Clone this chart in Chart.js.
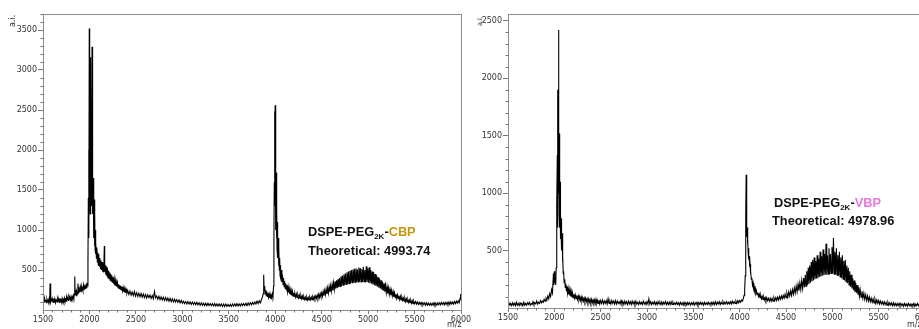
<!DOCTYPE html>
<html><head><meta charset="utf-8">
<script src="https://cdn.jsdelivr.net/npm/chart.js@4.4.0/dist/chart.umd.min.js"></script>
<style>
html,body{margin:0;padding:0;background:#fff;width:919px;height:329px;overflow:hidden;position:relative;}
canvas{position:absolute;top:0;}
#c1{left:0}
#c2{left:464px}
.ann{position:absolute;font-family:'Liberation Sans',Arial,sans-serif;font-weight:bold;font-size:12.8px;line-height:13px;color:#111;white-space:nowrap}
.ann sub{font-size:8px;vertical-align:baseline;position:relative;top:3px}
.ai{position:absolute;font-family:'DejaVu Sans',sans-serif;font-size:8px;line-height:8px;color:#333;transform:rotate(-90deg);transform-origin:left top;white-space:nowrap}
.mz{position:absolute;font-family:'DejaVu Sans',sans-serif;font-size:8px;line-height:8px;color:#333;white-space:nowrap}
</style></head>
<body>
<canvas id="c1" width="473" height="329"></canvas>
<canvas id="c2" width="475" height="329"></canvas>
<div class="ai" style="left:9px;top:27px">a.i.</div>
<div class="ai" style="left:476px;top:26px;font-size:6.5px">a.i.</div>
<div class="mz" style="left:447px;top:321px">m/z</div>
<div class="mz" style="left:907px;top:321px">m/z</div>
<div class="ann" style="left:308px;top:225px">DSPE-PEG<sub>2K</sub>-<span id="n1"></span></div>
<div class="ann" style="left:308px;top:243.5px" id="t1"></div>
<div class="ann" style="left:774px;top:196px">DSPE-PEG<sub>2K</sub>-<span id="n2"></span></div>
<div class="ann" style="left:772px;top:214px" id="t2"></div>
<script>
// ---- data (m/z, intensity a.i.) ----
const xTicks = [1500,2000,2500,3000,3500,4000,4500,5000,5500,6000];
const yTicksCBP = [500,1000,1500,2000,2500,3000,3500];
const yTicksVBP = [500,1000,1500,2000,2500];
const labelsCBP = { name:'CBP', color:'#c9950c', theo:'Theoretical: 4993.74' };
const labelsVBP = { name:'VBP', color:'#e67ad9', theo:'Theoretical: 4978.96' };

const cbpSpectrum = [
[1500,95],[1506,130],[1512,100],[1518,140],[1524,110],[1530,125],[1536,90],[1542,135],[1548,105],[1554,120],[1560,95],[1566,140],[1572,110],[1576,330],[1580,120],[1586,100],[1592,135],[1598,110],[1604,125],[1610,95],[1616,145],[1622,105],[1628,120],[1634,90],[1640,130],[1646,115],[1652,100],[1658,140],[1664,110],[1670,125],[1676,95],[1682,150],[1688,110],[1694,125],[1700,100],[1706,145],[1712,115],[1718,130],[1724,100],[1730,150],[1736,120],[1742,135],[1748,110],[1754,160],[1760,130],[1766,145],[1772,120],[1778,165],[1784,135],[1790,150],[1796,125],[1802,170],[1808,140],[1814,160],[1820,135],[1826,180],[1832,150],[1838,200],[1842,420],[1846,190],[1852,250],[1858,180],[1864,230],[1870,200],[1876,330],[1882,210],[1888,260],[1894,220],[1900,280],[1906,230],[1912,300],[1918,250],[1924,270],[1930,240],[1936,310],[1942,260],[1948,290],[1954,270],[1960,320],[1966,280],[1972,340],[1978,300],[1984,600],[1988,1400],[1992,2000],[1995,900],[1998,3520],[2001,1500],[2004,2500],[2007,1200],[2010,3160],[2013,1600],[2016,2900],[2019,1400],[2022,2600],[2025,1300],[2028,3290],[2031,1500],[2034,2500],[2037,1200],[2040,1650],[2043,1000],[2046,1500],[2049,900],[2052,1380],[2055,800],[2058,1200],[2061,750],[2064,1000],[2067,700],[2070,850],[2075,650],[2080,780],[2085,600],[2090,720],[2095,560],[2100,700],[2106,550],[2112,650],[2118,520],[2124,620],[2130,500],[2136,600],[2142,480],[2148,580],[2154,470],[2160,800],[2164,480],[2170,560],[2176,440],[2182,540],[2188,420],[2194,520],[2200,400],[2206,490],[2212,390],[2218,470],[2224,370],[2230,450],[2236,360],[2242,430],[2248,340],[2254,410],[2260,330],[2266,390],[2272,310],[2278,370],[2284,300],[2290,350],[2296,290],[2302,340],[2308,280],[2314,320],[2320,270],[2326,310],[2332,260],[2338,300],[2344,250],[2350,290],[2356,240],[2362,280],[2368,230],[2374,270],[2380,220],[2386,260],[2392,215],[2398,250],[2404,210],
[2412,245],[2424,195],[2436,235],[2448,185],[2460,225],[2472,180],[2484,230],[2496,175],[2508,215],[2520,170],[2532,210],[2544,165],[2556,205],[2568,160],[2580,200],[2592,155],[2604,195],[2616,150],[2628,190],[2640,155],[2652,185],[2664,145],[2676,180],[2688,140],[2700,230],[2712,150],[2724,175],[2736,135],[2748,170],[2760,130],[2772,165],[2784,125],[2796,160],[2808,120],[2820,155],[2832,115],[2844,150],[2856,110],[2868,145],[2880,105],[2892,140],[2904,100],[2916,135],[2928,100],[2940,130],[2952,95],[2964,125],[2976,90],[2988,120],[3000,85],[3012,110],[3024,80],[3036,105],[3048,75],[3060,105],[3072,75],[3084,100],[3096,70],[3108,100],[3120,70],[3132,95],[3144,65],[3156,95],[3168,65],[3180,90],[3192,60],[3204,90],[3216,60],[3228,85],[3240,55],[3252,85],[3264,55],[3276,85],[3288,55],[3300,80],[3312,55],[3324,80],[3336,50],[3348,80],[3360,50],[3372,75],[3384,50],[3396,75],[3408,50],[3420,75],[3432,45],[3444,75],[3456,45],[3468,75],[3480,45],[3492,70],[3504,45],[3516,70],[3528,45],[3540,75],[3552,50],[3564,75],[3576,50],[3588,80],[3600,50],[3612,75],[3624,50],[3636,80],[3648,55],[3660,80],[3672,55],[3684,85],[3696,55],[3708,90],[3720,60],[3732,90],[3744,65],[3756,95],[3768,70],[3780,100],[3792,75],[3804,110],[3816,80],[3828,115],[3840,90],[3850,125],[3862,160],[3870,200],[3876,440],[3880,250],[3886,300],[3892,200],[3898,250],[3904,180],[3910,230],[3916,170],[3922,210],[3928,160],[3934,200],[3940,150],[3946,190],[3952,140],[3958,180],[3964,150],[3970,200],[3976,170],[3982,300],[3986,900],[3990,1600],[3993,2480],[3996,1300],[3999,2560],[4002,1200],[4005,1800],[4008,1000],[4011,1720],[4014,900],[4017,1300],[4020,750],[4024,1100],[4028,650],[4032,900],[4036,550],[4040,800],[4044,500],[4048,650],[4052,430],[4056,560],[4060,400],[4066,500],[4072,350],[4078,440],[4084,320],[4090,400],[4096,290],[4102,360],[4108,270],[4114,330],[4120,250],[4126,310],[4132,230],[4138,290],[4144,220],[4150,270],[4156,200],[4162,250],[4168,190],[4174,240],[4180,180],[4186,230],[4192,175],[4198,215],[4204,170],[4212,205],[4220,160],[4228,200],[4236,155],[4244,190],[4252,150],[4260,185],[4268,145],[4276,180],[4284,140],[4292,175],[4300,135],[4308,165],[4316,130],[4324,160],[4332,125],[4340,160],[4348,125],[4356,155],[4364,125],[4372,160],[4380,130],[4388,160],[4396,130],[4404,165],[4412,135],[4420,170],[4428,140],[4436,175],[4444,145],[4452,185],[4460,150],[4468,195],[4476,155],[4484,205],[4492,165],[4500,215],[4508,170],[4516,230],[4524,180],[4532,245],[4540,190],[4548,260],[4556,200],[4564,275],[4572,210],[4580,290],[4588,225],[4596,305],[4604,235],[4612,320],[4620,245],[4628,340],[4636,255],[4644,355],[4652,265],[4660,370],[4668,275],[4676,385],[4684,285],[4692,400],[4700,295],[4708,420],[4716,305],[4724,430],[4732,310],[4740,445],[4748,315],[4756,455],[4764,320],[4772,470],[4780,325],[4788,480],[4796,330],[4804,490],[4812,335],[4820,500],[4828,340],[4836,505],[4844,345],[4852,515],[4860,345],[4868,520],[4876,350],[4884,510],[4892,350],[4900,530],[4908,355],[4916,525],[4924,350],[4932,510],[4940,350],[4948,540],[4956,355],[4964,500],[4972,345],[4980,545],[4988,350],[4996,520],[5004,340],[5012,535],[5020,335],[5028,500],[5036,330],[5044,480],[5052,320],[5060,470],[5068,310],[5076,450],[5084,300],[5092,430],[5100,290],[5108,410],[5116,280],[5124,390],[5132,270],[5140,370],[5148,255],[5156,350],[5164,240],[5172,330],[5180,230],[5188,310],[5196,215],[5204,290],[5212,205],[5220,275],[5228,195],[5236,260],[5244,185],[5252,245],[5260,175],[5268,230],[5276,165],[5284,215],[5292,155],[5300,200],[5308,145],[5316,190],[5324,140],[5332,180],[5340,130],[5348,170],[5356,125],[5364,160],[5372,120],[5380,150],[5388,110],[5396,145],[5404,105],[5412,140],[5420,100],[5428,130],[5436,95],[5444,125],[5452,90],[5460,120],[5468,85],[5476,115],[5484,80],[5492,110],[5500,80],[5510,105],[5520,75],[5530,100],[5540,70],[5550,95],[5560,70],[5570,95],[5580,65],[5590,90],[5600,65],[5610,90],[5620,60],[5630,90],[5640,60],[5650,85],[5660,60],[5670,85],[5680,60],[5690,85],[5700,60],[5710,90],[5720,60],[5730,85],[5740,60],[5750,90],[5760,65],[5770,90],[5780,65],[5790,95],[5800,70],[5810,90],[5820,65],[5830,95],[5840,70],[5850,95],[5860,70],[5870,100],[5880,70],[5890,100],[5900,75],[5910,100],[5920,75],[5930,105],[5940,80],[5950,110],[5960,85],[5970,115],[5980,90],[5990,150],[5996,200],[6000,120]
];

const vbpSpectrum = [
[1500,30],[1510,45],[1520,25],[1530,40],[1540,20],[1550,45],[1560,25],[1570,40],[1580,20],[1590,50],[1600,25],[1610,40],[1620,20],[1630,45],[1640,30],[1650,40],[1660,20],[1670,50],[1680,25],[1690,40],[1700,25],[1710,45],[1720,30],[1730,50],[1740,25],[1750,40],[1760,30],[1770,55],[1780,30],[1790,45],[1800,35],[1810,60],[1820,35],[1830,50],[1840,40],[1850,65],[1860,45],[1870,60],[1880,50],[1890,75],[1900,60],[1910,85],[1920,70],[1930,105],[1940,80],[1950,125],[1960,100],[1970,160],[1980,130],[1990,300],[1995,200],[2000,320],[2005,220],[2010,260],[2015,200],[2020,350],[2024,500],[2028,900],[2032,1330],[2035,700],[2038,1900],[2041,1000],[2044,2420],[2047,1200],[2050,1500],[2053,800],[2056,1520],[2059,700],[2062,1100],[2065,600],[2068,820],[2072,700],[2076,780],[2080,500],[2084,650],[2088,400],[2092,450],[2096,300],[2100,320],[2106,220],[2112,250],[2118,180],[2124,210],[2130,150],[2136,190],[2142,130],[2148,170],[2154,120],[2160,160],[2166,110],[2172,150],[2178,100],[2184,140],[2190,95],[2196,130],[2202,90],[2210,120],[2218,85],[2226,115],[2234,80],[2242,110],[2250,75],[2258,105],[2266,70],[2274,100],[2282,65],[2290,95],[2298,60],[2306,90],[2314,60],[2322,85],[2330,55],[2338,85],[2346,55],[2354,80],[2362,50],[2370,80],[2378,50],[2386,75],[2394,45],[2402,75],[2410,45],[2418,70],[2426,45],[2434,70],[2442,40],[2450,75],[2458,40],[2466,65],[2474,40],[2482,70],[2490,35],[2500,65],[2510,40],[2520,70],[2530,35],[2540,60],[2550,40],[2560,65],[2570,35],[2580,80],[2590,40],[2600,60],[2610,35],[2620,65],[2630,40],[2640,60],[2650,35],[2660,65],[2670,35],[2680,60],[2690,40],[2700,55],[2710,35],[2720,65],[2730,35],[2740,55],[2750,30],[2760,60],[2770,35],[2780,55],[2790,30],[2800,60],[2810,35],[2820,55],[2830,30],[2840,60],[2850,35],[2860,55],[2870,30],[2880,60],[2890,35],[2900,50],[2910,30],[2920,55],[2930,35],[2940,50],[2950,30],[2960,60],[2970,35],[2980,50],[2990,30],[3000,55],[3010,35],[3020,80],[3030,35],[3040,55],[3050,30],[3060,50],[3070,35],[3080,55],[3090,30],[3100,50],[3110,30],[3120,55],[3130,35],[3140,50],[3150,30],[3160,55],[3170,30],[3180,50],[3190,35],[3200,55],[3210,30],[3220,50],[3230,30],[3240,50],[3250,30],[3260,55],[3270,30],[3280,50],[3290,30],[3300,45],[3310,30],[3320,50],[3330,30],[3340,45],[3350,25],[3360,50],[3370,30],[3380,45],[3390,25],[3400,50],[3410,30],[3420,45],[3430,25],[3440,50],[3450,30],[3460,45],[3470,25],[3480,45],[3490,30],[3500,50],[3510,25],[3520,45],[3530,30],[3540,50],[3550,25],[3560,45],[3570,30],[3580,50],[3590,30],[3600,45],[3610,25],[3620,50],[3630,30],[3640,45],[3650,30],[3660,50],[3670,30],[3680,45],[3690,30],[3700,50],[3710,30],[3720,50],[3730,30],[3740,55],[3750,30],[3760,50],[3770,35],[3780,55],[3790,30],[3800,50],[3810,35],[3820,55],[3830,35],[3840,50],[3850,35],[3860,55],[3870,35],[3880,50],[3890,35],[3900,55],[3910,35],[3920,60],[3930,40],[3940,55],[3950,40],[3960,60],[3970,40],[3980,65],[3990,45],[4000,65],[4010,50],[4020,70],[4030,60],[4040,85],[4048,110],[4054,160],[4060,280],[4064,500],[4067,800],[4070,1160],[4073,700],[4076,880],[4079,620],[4082,700],[4085,560],[4088,600],[4092,480],[4096,520],[4100,420],[4104,450],[4108,360],[4112,380],[4116,300],[4120,320],[4126,250],[4132,260],[4138,200],[4144,220],[4150,170],[4156,190],[4162,150],[4168,170],[4174,130],[4180,150],[4188,115],[4196,135],[4204,100],[4212,120],[4220,90],[4228,110],[4236,80],[4244,100],[4252,75],[4260,95],[4268,70],[4276,90],[4284,65],[4292,90],[4300,65],[4310,85],[4320,60],[4330,85],[4340,60],[4350,85],[4360,60],[4370,90],[4380,65],[4390,90],[4400,65],[4410,95],[4420,70],[4430,100],[4440,75],[4450,105],[4460,80],[4470,110],[4480,85],[4490,120],[4500,90],[4510,130],[4520,95],[4530,140],[4540,105],[4550,150],[4560,110],[4570,160],[4580,120],[4590,175],[4600,130],[4610,190],[4620,140],[4630,205],[4640,150],[4650,220],[4660,160],[4670,240],[4680,170],[4690,260],[4700,180],[4708,290],[4716,190],[4724,320],[4732,200],[4740,350],[4748,210],[4756,370],[4764,220],[4772,400],[4780,230],[4788,420],[4796,240],[4804,440],[4812,250],[4820,410],[4828,255],[4836,460],[4844,260],[4852,430],[4860,270],[4868,490],[4876,275],[4884,450],[4892,280],[4900,510],[4908,285],[4916,470],[4924,290],[4932,560],[4940,290],[4948,460],[4956,295],[4964,520],[4972,295],[4980,470],[4988,300],[4996,530],[5004,300],[5012,610],[5020,295],[5028,490],[5036,290],[5044,520],[5052,285],[5060,460],[5068,280],[5076,490],[5084,270],[5092,440],[5100,260],[5108,460],[5116,250],[5124,410],[5132,240],[5140,420],[5148,230],[5156,370],[5164,215],[5172,350],[5180,200],[5188,320],[5196,185],[5204,290],[5212,170],[5220,260],[5228,155],[5236,240],[5244,140],[5252,220],[5260,130],[5268,200],[5276,115],[5284,180],[5292,105],[5300,160],[5310,95],[5320,145],[5330,85],[5340,130],[5350,75],[5360,115],[5370,65],[5380,105],[5390,60],[5400,95],[5410,55],[5420,85],[5430,50],[5440,80],[5450,45],[5460,75],[5470,40],[5480,70],[5490,40],[5500,65],[5510,35],[5520,60],[5530,35],[5540,55],[5550,30],[5560,55],[5570,30],[5580,50],[5590,25],[5600,50],[5610,25],[5620,45],[5630,25],[5640,45],[5650,20],[5660,45],[5670,20],[5680,40],[5690,20],[5700,40],[5710,20],[5720,40],[5730,20],[5740,40],[5750,20],[5760,35],[5770,15],[5780,40],[5790,20],[5800,35],[5810,15],[5820,40],[5830,20],[5840,35],[5850,15],[5860,35],[5870,20],[5880,40],[5890,15],[5900,35],[5910,20],[5920,40],[5930,20],[5940,35],[5950,15],[5960,40],[5970,20],[5980,35],[5990,20],[6000,30]
];

// ---- annotations as real text ----
document.getElementById('n1').textContent = labelsCBP.name;
document.getElementById('n1').style.color = labelsCBP.color;
document.getElementById('t1').textContent = labelsCBP.theo;
document.getElementById('n2').textContent = labelsVBP.name;
document.getElementById('n2').style.color = labelsVBP.color;
document.getElementById('t2').textContent = labelsVBP.theo;

const framePlugin = {
  id: 'frame',
  afterDraw(chart) {
    const {ctx, chartArea: a, scales: {x, y}} = chart;
    ctx.save();
    ctx.strokeStyle = '#8c8c8c'; ctx.lineWidth = 1;
    ctx.strokeRect(Math.round(a.left) + 0.5, Math.round(a.top) + 0.5, Math.round(a.right - a.left), Math.round(a.bottom - a.top));
    ctx.strokeStyle = '#777';
    ctx.beginPath();
    for (let v = x.min; v <= x.max; v += 100) {
      if (v % 500 === 0) continue;
      const px = Math.round(x.getPixelForValue(v)) + 0.5;
      ctx.moveTo(px, a.bottom); ctx.lineTo(px, a.bottom + 2.5);
    }
    for (let v = 100; v <= y.max; v += 100) {
      if (v % 500 === 0) continue;
      const py = Math.round(y.getPixelForValue(v)) + 0.5;
      ctx.moveTo(a.left, py); ctx.lineTo(a.left - 2.5, py);
    }
    ctx.stroke();
    ctx.restore();
  }
};

function makeChart(id, points, yMax, yTicks, yW, xH, padR) {
  const tickFont = {family: 'DejaVu Sans', size: 8};
  return new Chart(document.getElementById(id), {
    type: 'line',
    data: {datasets: [{
      data: points.map(p => ({x: p[0], y: p[1]})),
      borderColor: '#000', borderWidth: 1.1, pointRadius: 0, tension: 0, fill: false
    }]},
    options: {
      responsive: false, animation: false, devicePixelRatio: 1,
      layout: {padding: {top: 14, right: padR, left: 0, bottom: 0}},
      plugins: {legend: {display: false}, tooltip: {enabled: false}},
      scales: {
        x: {
          type: 'linear', min: xTicks[0], max: xTicks[xTicks.length - 1],
          afterFit: s => { s.height = xH; },
          afterBuildTicks: s => { s.ticks = xTicks.map(v => ({value: v})); },
          ticks: {font: tickFont, color: '#333', padding: 1, maxRotation: 0, autoSkip: false, callback: v => String(v)},
          grid: {drawOnChartArea: false, tickLength: 4, tickColor: '#777'},
          border: {color: '#8c8c8c'}
        },
        y: {
          type: 'linear', min: 0, max: yMax,
          afterFit: s => { s.width = yW; },
          afterBuildTicks: s => { s.ticks = yTicks.map(v => ({value: v})); },
          ticks: {font: tickFont, color: '#333', padding: 1, autoSkip: false, callback: v => String(v)},
          grid: {drawOnChartArea: false, tickLength: 5, tickColor: '#777'},
          border: {color: '#8c8c8c'}
        }
      }
    },
    plugins: [framePlugin]
  });
}

makeChart('c1', cbpSpectrum, 3700, yTicksCBP, 43, 19, 12);
makeChart('c2', vbpSpectrum, 2560, yTicksVBP, 44, 21, 14);
</script>
</body></html>
